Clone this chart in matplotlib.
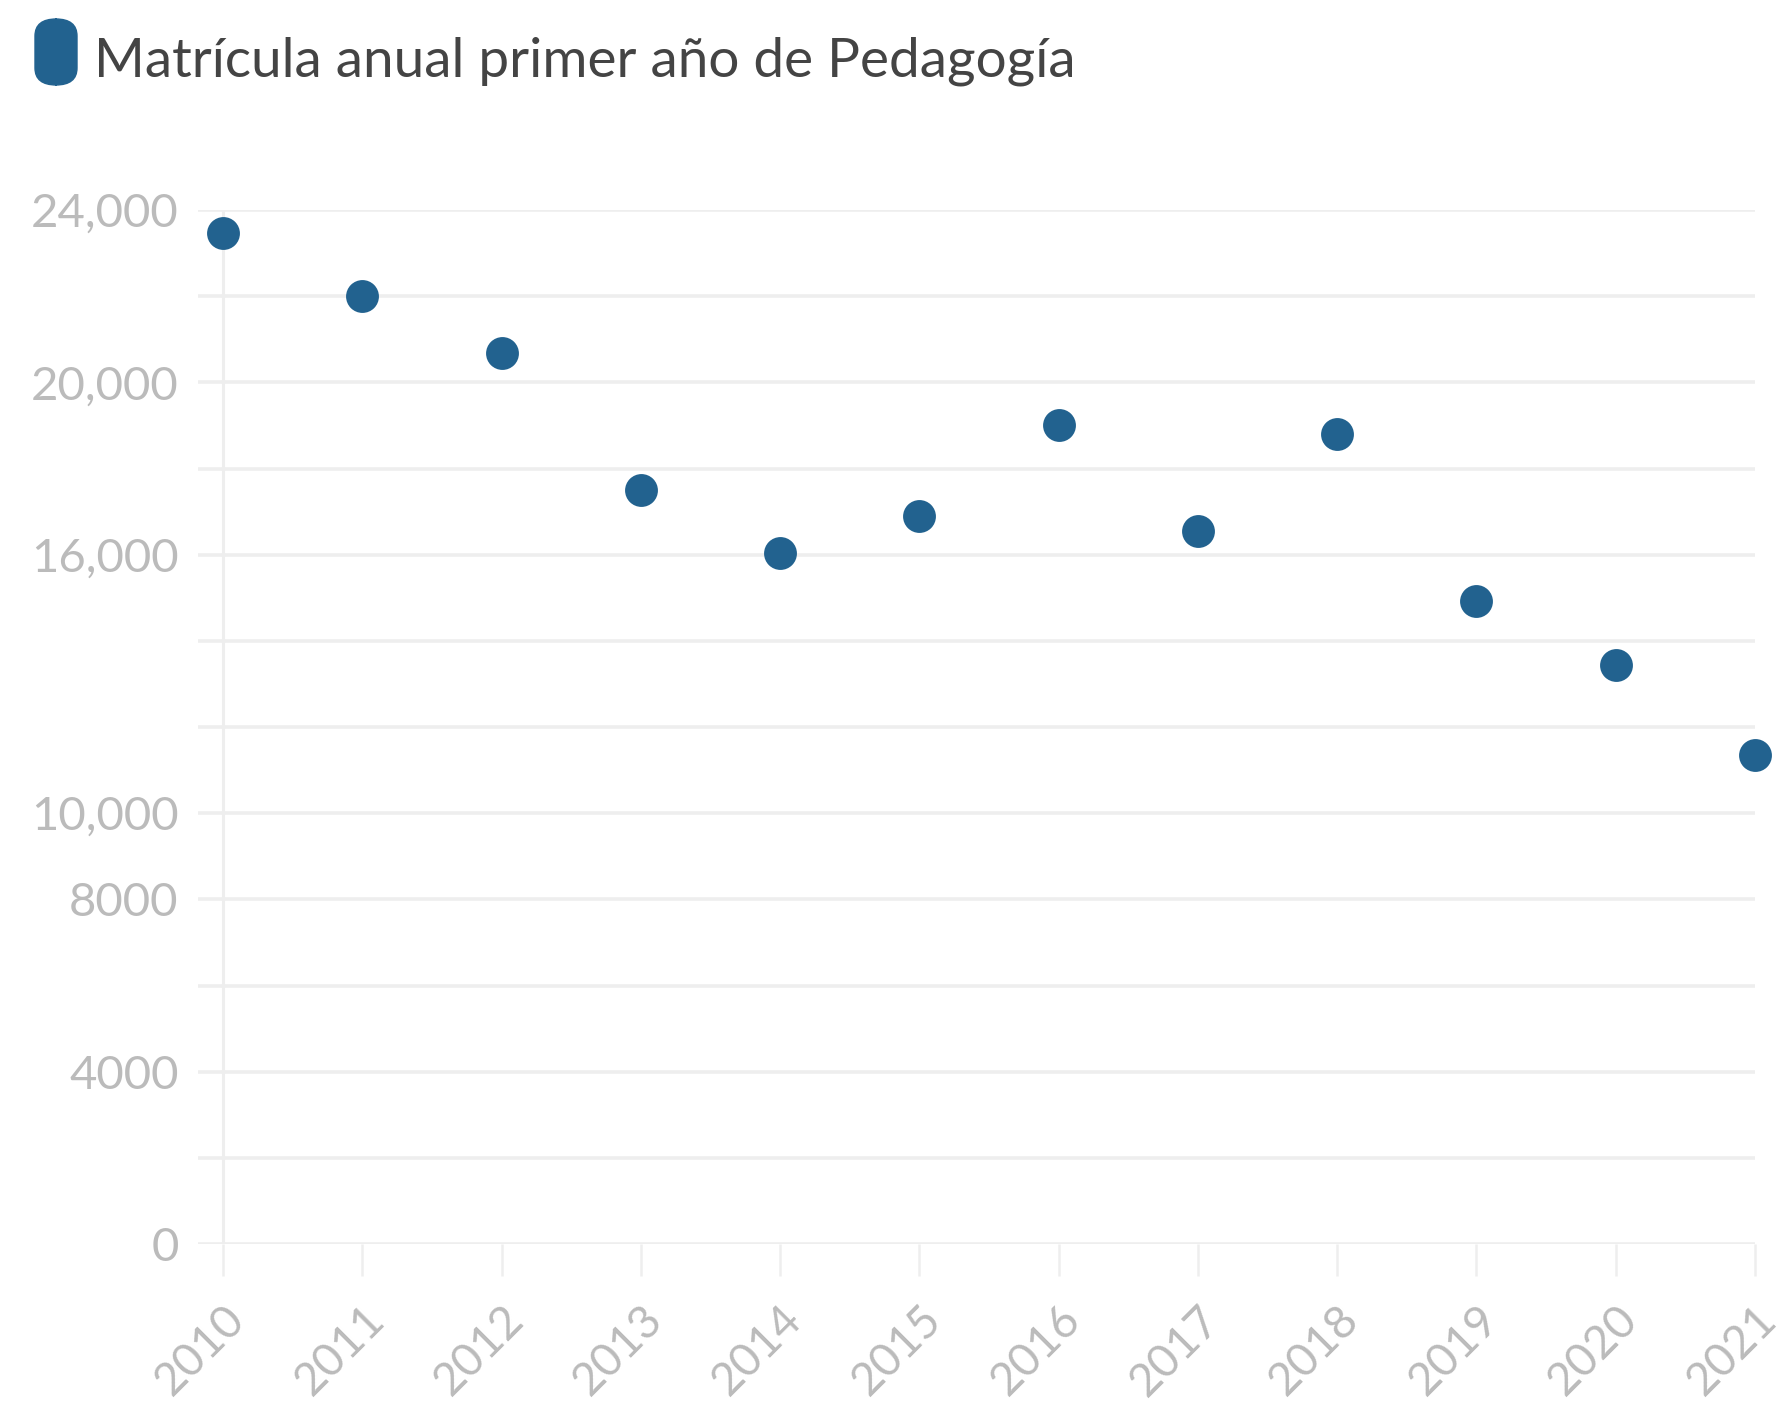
import numpy as np
import matplotlib.pyplot as plt
import matplotlib.transforms as mtransforms
from matplotlib.patches import FancyBboxPatch

plt.rcParams['font.family'] = ['Lato', 'DejaVu Sans']

# Data
years = [2010, 2011, 2012, 2013, 2014, 2015, 2016, 2017, 2018, 2019, 2020, 2021]
matricula = [23470, 22000, 20690, 17500, 16050, 16890, 19000, 16550, 18790, 14920, 13450, 11340]

grid_ticks = list(range(0, 24001, 2000))
labelled = {0: '0', 4000: '4000', 8000: '8000', 10000: '10,000',
            16000: '16,000', 20000: '20,000', 24000: '24,000'}
title = 'Matrícula anual primer año de Pedagogía'

dot_color = '#22628f'
grid_color = '#eeeeee'
label_color = '#bbbbbb'

fig = plt.figure(figsize=(17.77, 14.18), dpi=100)
ax = fig.add_axes([0.1114, 0.1227, 0.8762, 0.7292])

ax.scatter(years, matricula, s=560, color=dot_color, zorder=3, clip_on=False,
           linewidths=0)

ax.set_xlim(2009.82, 2021)
ax.set_ylim(0, 24000)

ax.set_yticks(grid_ticks)
ax.set_yticklabels([labelled.get(t, '') for t in grid_ticks])
ax.yaxis.grid(True, color=grid_color, linewidth=2.6)
ax.set_axisbelow(True)
ax.tick_params(axis='y', length=0, pad=14, labelsize=34, labelcolor=label_color)

ax.set_xticks(years)
ax.set_xticklabels([str(y) for y in years], rotation=45, ha='right', va='top')
ax.tick_params(axis='x', length=23, width=1.8, color=grid_color, pad=16,
               labelsize=33, labelcolor=label_color)
offset = mtransforms.ScaledTranslation(30 / 100, 0, fig.dpi_scale_trans)
for lab in ax.get_xticklabels():
    lab.set_transform(lab.get_transform() + offset)

ax.axvline(2010, color=grid_color, linewidth=2.2, zorder=1)

for s in ax.spines.values():
    s.set_visible(False)

# Legend-like header
fig.patches.append(FancyBboxPatch((35 / 1777, 1 - 85 / 1418), 42 / 1777, 66 / 1418,
                                  boxstyle='round,pad=0,rounding_size=0.012',
                                  transform=fig.transFigure, color=dot_color))
fig.text(94 / 1777, 1 - 77 / 1418, title, fontsize=39.5, color='#444444',
         va='baseline', ha='left')

fig.savefig('out.png', dpi=100, facecolor='white')
